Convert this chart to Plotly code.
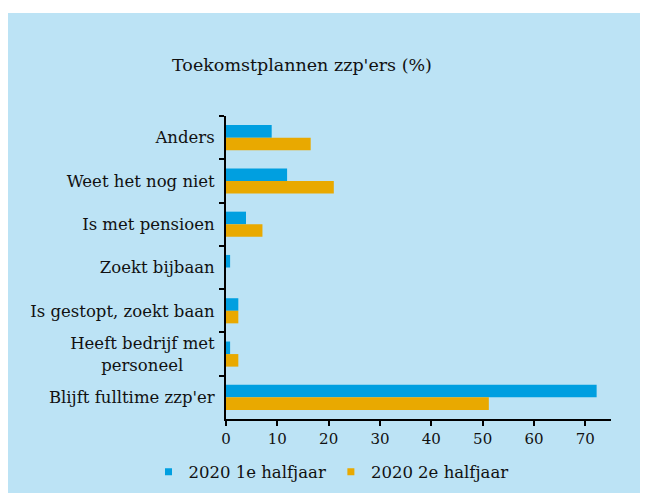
import plotly.graph_objects as go

categories = ["Anders", "Weet het nog niet", "Is met pensioen", "Zoekt bijbaan",
              "Is gestopt, zoekt baan",
              "Heeft bedrijf met<br>personeel" + "\u00a0" * 6,
              "Blijft fulltime zzp'er"]
series1_name = "2020 1e halfjaar"
series2_name = "2020 2e halfjaar"
series1 = [8.9, 11.9, 3.9, 0.8, 2.4, 0.8, 72.2]
series2 = [16.5, 21.0, 7.1, 0.0, 2.4, 2.4, 51.2]
x_ticks = [0, 10, 20, 30, 40, 50, 60, 70]

BLUE = "#009FE0"
ORANGE = "#E9A900"
BG = "#BCE3F5"
FONT = "DejaVu Serif"
TXT = "#111111"

fig = go.Figure()
fig.add_trace(go.Bar(y=categories, x=series1, orientation="h", marker_color=BLUE,
                     marker_line_width=0, showlegend=False, name=series1_name))
fig.add_trace(go.Bar(y=categories, x=series2, orientation="h", marker_color=ORANGE,
                     marker_line_width=0, showlegend=False, name=series2_name))
# legend entries with small square markers
fig.add_trace(go.Scatter(x=[None], y=[None], mode="markers", name=series1_name,
                         marker=dict(symbol="square", size=7, color=BLUE)))
fig.add_trace(go.Scatter(x=[None], y=[None], mode="markers", name=series2_name,
                         marker=dict(symbol="square", size=7, color=ORANGE)))

# page has an 8px body margin; figure coords = page coords - 8
OFF = 8
W, H = 640, 485
L, R, T, B = 226 - OFF, 640 - (611 - OFF), 116 - OFF, 485 - (419 - OFF)
pw = W - L - R
ph = H - T - B

def px2x(px):
    return (px - OFF - L) / pw

def py2y(py):
    return (H - B - (py - OFF)) / ph

fig.add_shape(type="rect", xref="paper", yref="paper",
              x0=px2x(8), x1=px2x(700), y0=py2y(13), y1=py2y(560),
              fillcolor=BG, line_width=0, layer="below")

fig.update_layout(
    width=W, height=H,
    margin=dict(l=L, r=R, t=T, b=B, pad=0, autoexpand=False),
    paper_bgcolor="white",
    plot_bgcolor="rgba(0,0,0,0)",
    barmode="group",
    bargap=0.42,
    bargroupgap=0,
    font=dict(family=FONT, size=16.5, color=TXT),
    title=dict(text="Toekomstplannen zzp'ers (%)", x=(302 - OFF) / W,
               xanchor="center", y=1 - (65 - OFF) / H, yanchor="middle",
               font=dict(family=FONT, size=17.5, color=TXT)),
    legend=dict(orientation="h", x=px2x(331), xanchor="center",
                y=py2y(472), yanchor="middle", bgcolor="rgba(0,0,0,0)",
                font=dict(family=FONT, size=16.5, color=TXT),
                itemwidth=30, tracegroupgap=0),
    xaxis=dict(range=[0, 75], tickvals=x_ticks, ticks="outside", ticklen=5,
               tickwidth=2, tickcolor="black", showline=True, linecolor="black",
               linewidth=2, showgrid=False, zeroline=False, automargin=False,
               tickfont=dict(family=FONT, size=15, color=TXT)),
    yaxis=dict(autorange="reversed", type="category", ticks="outside", ticklen=5,
               tickwidth=2, tickcolor="black", tickson="boundaries",
               showline=True, linecolor="black", linewidth=2, showgrid=False,
               zeroline=False, ticklabelstandoff=6, automargin=False,
               tickfont=dict(family=FONT, size=16.5, color=TXT)),
)

fig.write_html("out.html")
